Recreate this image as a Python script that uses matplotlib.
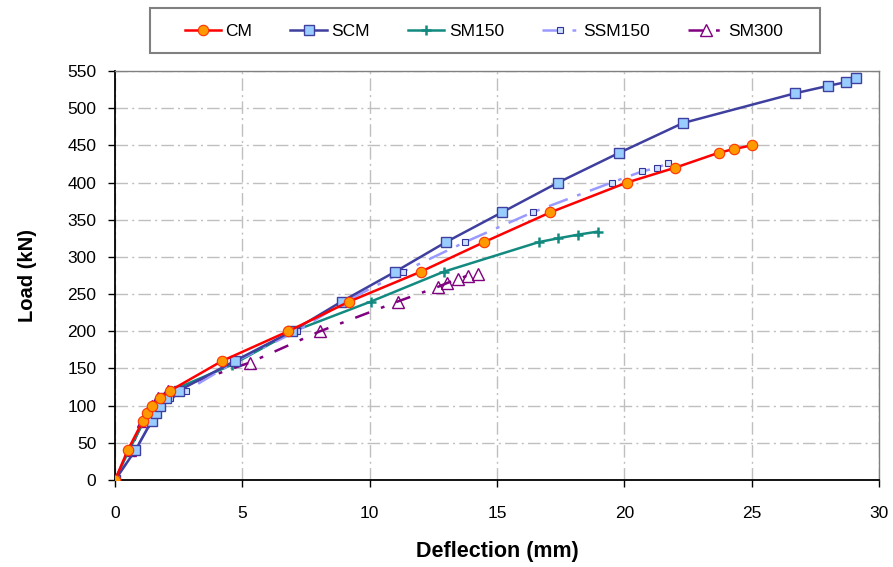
import matplotlib
matplotlib.use("Agg")
import matplotlib.pyplot as plt
from matplotlib.patches import Rectangle

plt.rcParams['font.family'] = ['Liberation Sans', 'DejaVu Sans']

cm_d = [0, 0.5, 1.1, 1.25, 1.45, 1.77, 2.16, 4.2, 6.8, 9.2, 12.0, 14.5, 17.1, 20.1, 22.0, 23.7, 24.3, 25.0]
cm_L = [0, 40, 80, 90, 100, 110, 120, 160, 200, 240, 280, 320, 360, 400, 420, 440, 445, 450]

scm_d = [0, 0.8, 1.45, 1.6, 1.77, 2.0, 2.5, 4.7, 6.95, 8.9, 11.0, 13.0, 15.2, 17.4, 19.8, 22.3, 26.7, 28.0, 28.7, 29.1]
scm_L = [0, 40, 80, 90, 100, 110, 120, 160, 200, 240, 280, 320, 360, 400, 440, 480, 520, 530, 535, 540]

sm150_d = [0, 0.55, 1.15, 1.3, 1.5, 1.8, 2.2, 4.6, 7.0, 10.05, 12.9, 16.65, 17.4, 18.2, 18.95]
sm150_L = [0, 40, 80, 90, 100, 110, 120, 155, 200, 240, 280, 320, 325, 330, 334]

ssm150_d = [0, 0.8, 1.45, 1.65, 1.77, 2.16, 2.8, 4.75, 7.13, 9.05, 11.3, 13.75, 16.4, 19.5, 20.7, 21.3, 21.7]
ssm150_L = [0, 40, 80, 90, 100, 110, 120, 160, 200, 240, 280, 320, 360, 400, 415, 420, 426]

sm300_d = [0, 0.6, 1.1, 1.25, 1.45, 1.7, 2.1, 5.3, 8.05, 11.1, 12.7, 13.05, 13.45, 13.85, 14.25]
sm300_L = [0, 40, 80, 90, 100, 110, 120, 158, 200, 240, 260, 265, 270, 275, 277]

x_ticks = [0, 5, 10, 15, 20, 25, 30]
y_ticks = [0, 50, 100, 150, 200, 250, 300, 350, 400, 450, 500, 550]

W, H = 893, 567
fig = plt.figure(figsize=(W/100, H/100), dpi=100)
ax = fig.add_axes([115/W, 1-480/H, (879-115)/W, (480-71)/H])

ax.plot(cm_d, cm_L, color='#FF0000', lw=1.8, marker='o', ms=7.5,
        mfc='#FF9900', mec='#FF3300', mew=0.8, label='CM', zorder=5)
ax.plot(scm_d, scm_L, color='#3F3F9F', lw=1.8, marker='s', ms=7.5,
        mfc='#99CCFF', mec='#3F3F9F', mew=1.0, label='SCM', zorder=4)
ax.plot(sm150_d, sm150_L, color='#138A80', lw=1.8, marker='+', ms=7,
        mec='#138A80', mew=1.8, label='SM150', zorder=3)
ax.plot(ssm150_d, ssm150_L, color='#9999FF', lw=1.8, ls=(0, (8, 4, 1.5, 4)),
        marker='s', ms=5, mfc='#CCE0FF', mec='#333399', mew=0.8, label='SSM150', zorder=3)
ax.plot(sm300_d, sm300_L, color='#800080', lw=1.8, ls=(0, (6, 5, 1.5, 5)),
        marker='^', ms=9, mfc='none', mec='#800080', mew=1.0, label='SM300', zorder=2)

ax.set_xlim(0, 30)
ax.set_ylim(0, 550)
ax.set_xticks(x_ticks)
ax.set_yticks(y_ticks)
ax.tick_params(direction='out', length=5, width=1, labelsize=12.5, color='#000000')
ax.tick_params(axis='x', pad=14)
ax.tick_params(axis='y', pad=8.5)
ax.grid(True, color='#BFBFBF', ls=(0, (9, 3, 1.5, 3)), lw=1.0)
ax.set_axisbelow(True)

for s in ['left', 'bottom']:
    ax.spines[s].set_color('#000000')
    ax.spines[s].set_linewidth(1.3)
for s in ['top', 'right']:
    ax.spines[s].set_color('#808080')
    ax.spines[s].set_linewidth(1.0)

ax.set_xlabel('Deflection (mm)', fontsize=15.5, fontweight='bold')
ax.set_ylabel('Load (kN)', fontsize=14.5, fontweight='bold')
ax.xaxis.set_label_coords(0.5, -(541-480)/409)
ax.yaxis.set_label_coords(-(115-37)/764, 0.5)

leg = fig.legend(loc='center', bbox_to_anchor=(484/W, 1-31/H), ncol=5,
                 frameon=False, fontsize=12.5, handlelength=2.1,
                 columnspacing=2.2, borderpad=0.9, handletextpad=0.25, borderaxespad=0)

# legend border box (as in the reference, wider than the entries)
fig.patches.append(Rectangle((150/W, 1-53/H), (820-150)/W, (53-8)/H,
                             transform=fig.transFigure, fill=False,
                             edgecolor='#808080', linewidth=1.5, zorder=0))

fig.savefig('out.png', dpi=100)
